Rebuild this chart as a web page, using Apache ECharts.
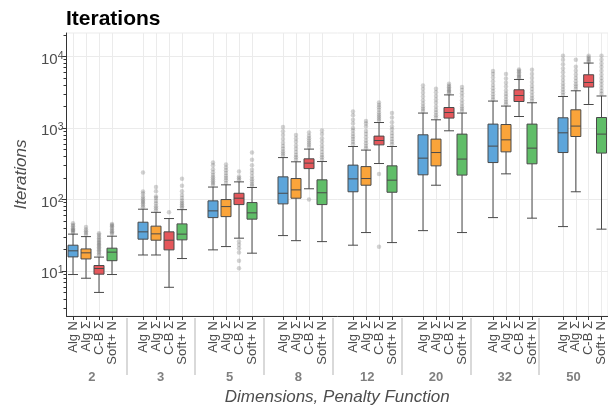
<!DOCTYPE html>
<html><head><meta charset="utf-8">
<script src="https://cdn.jsdelivr.net/npm/echarts@6/dist/echarts.min.js"></script>
<style>html,body{margin:0;padding:0;background:#fff}#c{width:608px;height:413px}</style>
</head><body><div id="c"></div>
<script>
// ---- data ----
const dims = ['2', '3', '5', '8', '12', '20', '32', '50'];
const methods = ['Alg N', 'Alg Σ', 'C-B Σ', 'Soft+ N'];
const colors = ['#5DA5DA', '#FAA43A', '#E5575B', '#60BD68'];

// [lower whisker, Q1, median, Q3, upper whisker] per dimension
const algN = [
  [8.9, 15.7, 19.1, 22.9, 32.7], [16.7, 27.8, 35.2, 48, 73], [19.7, 55.7, 69.2, 95.5, 149],
  [31.2, 86.7, 122, 207, 385], [22.9, 128, 194, 302, 550], [36.6, 221, 378, 802, 1615],
  [55.7, 328, 557, 1132, 2377], [41.7, 453, 855, 1387, 2754]
];
const algS = [
  [7.9, 14.7, 17.9, 20.3, 30.2], [16.7, 26.9, 33, 42.3, 66], [21.9, 57.5, 79.4, 99.6, 160],
  [26.5, 104, 136, 196, 336], [34.4, 158, 196, 288, 490], [158, 295, 453, 698, 1300],
  [228, 463, 682, 1117, 2023], [128, 759, 1062, 1795, 3311]
];
const cbS = [
  [5.0, 9.0, 10.8, 11.9, 15.6], [5.9, 19.7, 26.9, 35.2, 54], [28.7, 84.7, 104, 122, 176],
  [141, 270, 322, 370, 506], [318, 580, 667, 769, 1191], [912, 1374, 1644, 1932, 2900],
  [1446, 2344, 2844, 3420, 4766], [2128, 3733, 4325, 5546, 8090]
];
const softN = [
  [8.9, 13.9, 18.3, 20.8, 30.6], [14.9, 27.2, 32.7, 45.5, 72], [17.7, 53, 64.9, 90.4, 147],
  [25.7, 84.7, 124, 188, 339], [24.9, 126, 186, 295, 550], [34.4, 219, 367, 820, 1615],
  [54.7, 315, 522, 1132, 2250], [38.4, 445, 820, 1400, 2800]
];

// outliers per dimension
const algNOut = [
  [34, 35.5, 37, 38, 39.5, 42, 44, 46.6],
  [78, 82, 88, 92, 97, 103, 110, 121, 129, 238],
  [160, 170, 180, 192, 205, 220, 240, 265, 300, 328],
  [410, 440, 470, 510, 560, 620, 700, 800, 900, 1028],
  [590, 640, 700, 760, 830, 920, 1000, 1150, 1300, 1500, 1698],
  [1720, 1850, 2000, 2200, 2450, 2750, 3100, 3500, 3926],
  [2500, 2700, 2950, 3250, 3600, 4000, 4500, 5100, 5700, 6252],
  [2900, 3150, 3450, 3800, 4200, 4700, 5300, 6000, 6800, 7800, 9000, 10240]
];
const algSOut = [
  [32, 34, 36, 38, 41],
  [70, 75, 80, 88, 95, 105, 110, 130, 149],
  [170, 185, 200, 215, 235, 255, 280, 308],
  [360, 390, 420, 460, 510, 570, 640, 710, 794],
  [520, 560, 610, 670, 740, 820, 910, 1050, 1150, 1247],
  [1400, 1500, 1650, 1800, 2000, 2250, 2500, 2800, 3150, 3532],
  [2150, 2300, 2500, 2750, 3000, 3350, 3800, 4300, 4900, 5675],
  [3500, 3800, 4100, 4500, 5000, 5600, 6300, 7200, 8995]
];
const cbSOut = [
  [16.5, 17.5, 18.5, 19.5, 20.5, 21.5, 22.5, 23.5, 24.5, 25.5, 27, 28.5, 30, 32, 33.7],
  [66],
  [186, 198, 210, 245, 25.7, 23.2, 20.8, 18.1, 13.9, 10.9],
  [540, 580, 620, 670, 720, 780, 863, 99.6],
  [1260, 1340, 1430, 1530, 1650, 1800, 1950, 2100, 2270, 226, 21.7],
  [3050, 3200, 3350, 3500, 3700, 3900, 4150],
  [4950, 5150, 5400, 5700, 6000, 6300, 6577],
  [8400, 8800, 9200, 9700, 10240]
];
const softNOut = [
  [33, 34.5, 36, 38, 40, 42, 44, 45.5],
  [76, 80, 85, 90, 96, 105, 115, 130, 155, 194],
  [155, 165, 178, 192, 210, 235, 260, 300, 360, 453],
  [360, 390, 420, 460, 510, 570, 640, 720, 820, 920],
  [590, 640, 700, 770, 850, 950, 1050, 1200, 1400, 1615],
  [1720, 1850, 2000, 2200, 2450, 2750, 3050, 3400, 3733],
  [2400, 2600, 2850, 3150, 3500, 3900, 4400, 5000, 5700, 6515],
  [3000, 3300, 3650, 4050, 4500, 5000, 5600, 6300, 7100, 8000, 9000, 10240]
];

const yMajorTicks = [10, 100, 1000, 10000];
const yMinorTicks = [3, 4, 5, 6, 7, 8, 9, 20, 30, 40, 50, 60, 70, 80, 90,
  200, 300, 400, 500, 600, 700, 800, 900, 2000, 3000, 4000, 5000, 6000, 7000, 8000, 9000, 20000];
const yMin = 2.34, yMax = 21300;

// ---- build ----
const stats = [algN, algS, cbS, softN];
const outs = [algNOut, algSOut, cbSOut, softNOut];
const FONT = '"Liberation Sans", Arial, Helvetica, sans-serif';
const PLOT_TOP = 33, PLOT_H = 283;
const G0 = 73, PITCH = 70, STEP = 13;

const grid = [{ left: 66.5, top: PLOT_TOP, width: 545, height: PLOT_H, show: true, borderColor: '#ebebeb', borderWidth: 1 }];
const xAxis = [{
  gridIndex: 0, type: 'value', min: 0, max: 1, position: 'bottom',
  axisLine: { show: true, lineStyle: { color: '#333', width: 1 } },
  axisTick: { show: false }, axisLabel: { show: false }, splitLine: { show: false },
  name: 'Dimensions, Penalty Function', nameLocation: 'middle', nameGap: 73,
  nameTextStyle: { fontFamily: FONT, fontSize: 17, fontStyle: 'italic', color: '#4d4d4d' }
}];
const yAxis = [{
  gridIndex: 0, type: 'log', min: yMin, max: yMax, position: 'left',
  axisLine: { show: true, lineStyle: { color: '#333', width: 1 } },
  axisTick: { show: true, length: 5, customValues: yMajorTicks, lineStyle: { color: '#333' } },
  axisLabel: {
    customValues: yMajorTicks, margin: 3, fontFamily: FONT, fontSize: 15, color: '#4d4d4d',
    padding: [6, 0, 0, 0], lineHeight: 18,
    formatter: v => '10{s|' + Math.round(Math.log10(v)) + '}',
    rich: { s: { fontFamily: FONT, fontSize: 10.5, lineHeight: 10, verticalAlign: 'top', color: '#4d4d4d' } }
  },
  splitLine: { show: true, lineStyle: { color: '#ebebeb', width: 1 } },
  name: 'Iterations', nameLocation: 'middle', nameGap: 28,
  nameTextStyle: { fontFamily: FONT, fontSize: 17, fontStyle: 'italic', color: '#4d4d4d' }
}, {
  gridIndex: 0, type: 'log', min: yMin, max: yMax, position: 'left', offset: 0,
  axisLine: { show: false },
  axisTick: { show: true, length: 3, customValues: yMinorTicks, lineStyle: { color: '#333' } },
  axisLabel: { show: false }, splitLine: { show: false }
}];
const series = [];

dims.forEach((d, g) => {
  const gi = g + 1;
  grid.push({ left: G0 + PITCH * g, top: PLOT_TOP, width: STEP * 3, height: PLOT_H });
  xAxis.push({
    gridIndex: gi, type: 'category', data: methods, boundaryGap: false,
    axisLine: { show: false },
    axisTick: { show: true, length: 4, interval: 0, lineStyle: { color: '#333' } },
    axisLabel: { interval: 0, rotate: 90, margin: 5, fontFamily: FONT, fontSize: 13, color: '#4d4d4d' },
    splitLine: { show: true, interval: 0, lineStyle: { color: '#ebebeb', width: 1 } }
  });
  yAxis.push({
    gridIndex: gi, type: 'log', min: yMin, max: yMax,
    axisLine: { show: false }, axisTick: { show: false }, axisLabel: { show: false }, splitLine: { show: false }
  });
  const xi = xAxis.length - 1, yi = yAxis.length - 1;
  const pts = [];
  outs.forEach((arr, m) => arr[g].forEach(v => pts.push([m, v])));
  series.push({
    type: 'scatter', xAxisIndex: xi, yAxisIndex: yi, data: pts, symbolSize: 4.5,
    itemStyle: { color: 'rgba(85,85,85,0.32)' }, silent: true, z: 2
  });
  series.push({
    type: 'boxplot', xAxisIndex: xi, yAxisIndex: yi, boxWidth: [10, 10], z: 3,
    data: stats.map((s, m) => ({ value: s[g], itemStyle: { color: colors[m], borderColor: '#4a4a4a', borderWidth: 1 } })),
    emphasis: { disabled: true }, silent: true
  });
});

// group labels and separators
grid.push({ left: 57.5, top: PLOT_TOP, width: PITCH * 8, height: 285 });
xAxis.push({
  gridIndex: grid.length - 1, type: 'value', min: 0, max: 8, position: 'bottom',
  axisLine: { show: false },
  axisTick: { show: true, length: 57, customValues: [1, 2, 3, 4, 5, 6, 7], lineStyle: { color: '#d9d9d9', width: 2 } },
  axisLabel: {
    customValues: [0.5, 1.5, 2.5, 3.5, 4.5, 5.5, 6.5, 7.5], margin: 53,
    formatter: v => dims[Math.floor(v)], fontFamily: FONT, fontSize: 13, fontWeight: 'bold', color: '#7f7f7f'
  },
  splitLine: { show: false }
});
yAxis.push({
  gridIndex: grid.length - 1, type: 'value', min: 0, max: 1,
  axisLine: { show: false }, axisTick: { show: false }, axisLabel: { show: false }, splitLine: { show: false }
});

const chart = echarts.init(document.getElementById('c'), null, { renderer: 'canvas' });
chart.setOption({
  animation: false,
  backgroundColor: '#ffffff',
  title: {
    text: 'Iterations', left: 61, top: 4,
    textStyle: { fontFamily: FONT, fontSize: 21, fontWeight: 'bold', color: '#000' }
  },
  grid, xAxis, yAxis, series
});
</script></body></html>
